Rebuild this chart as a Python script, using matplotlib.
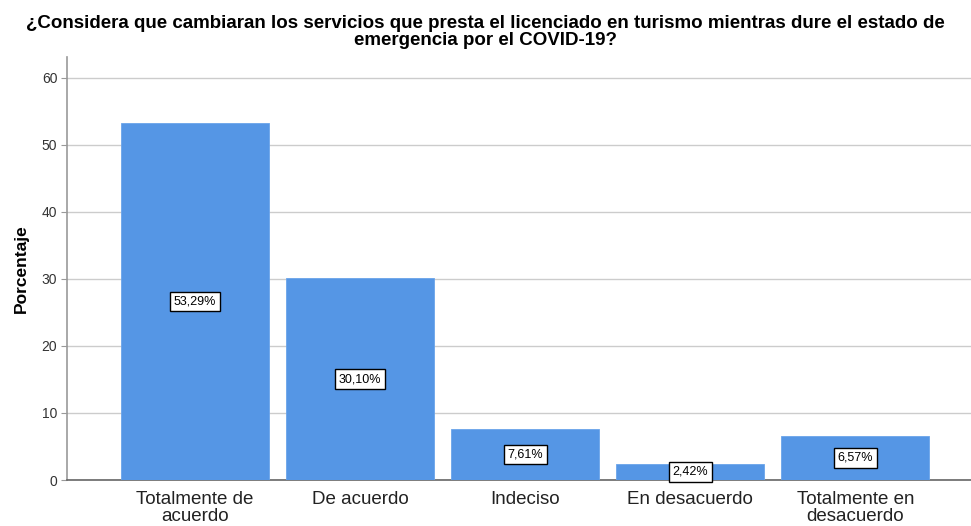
import matplotlib
matplotlib.use("Agg")
import matplotlib.pyplot as plt

categories = ["Totalmente de\nacuerdo", "De acuerdo", "Indeciso", "En desacuerdo", "Totalmente en\ndesacuerdo"]
values = [53.29, 30.10, 7.61, 2.42, 6.57]
labels = ["53,29%", "30,10%", "7,61%", "2,42%", "6,57%"]
yticks = [0, 10, 20, 30, 40, 50, 60]

plt.rcParams['font.family'] = ['Liberation Sans', 'DejaVu Sans']

fig = plt.figure(figsize=(9.71, 5.26), dpi=100)
ax = fig.add_axes([67/971, 1-480/526, (971-67)/971, (480-57)/526])

x = list(range(len(values)))
ax.bar(x, values, width=0.897, color="#5596E5", edgecolor="#6aa4ea", linewidth=0.6, zorder=3)

for xi, v, lab in zip(x, values, labels):
    ax.text(xi, v/2, lab, ha="center", va="center", fontsize=9, zorder=5,
            bbox=dict(boxstyle="square,pad=0.3", facecolor="white", edgecolor="black", linewidth=1.0))

ax.set_xlim(-0.776, 4.70)
ax.set_ylim(0, 63.1)
ax.set_yticks(yticks)
ax.set_yticklabels([str(t) for t in yticks], fontsize=10, color="#333333")
ax.set_xticks(x)
ax.set_xticklabels(categories, fontsize=13.5, color="#222222", linespacing=1.0)
ax.tick_params(axis="x", length=0, pad=8)
ax.tick_params(axis="y", length=4, color="#999999", pad=3)

ax.yaxis.grid(True, color="#cccccc", linewidth=1, zorder=0)
ax.set_axisbelow(True)
for s in ["top", "right"]:
    ax.spines[s].set_visible(False)
ax.spines["left"].set_color("#999999")
ax.spines["left"].set_linewidth(1.2)
ax.spines["bottom"].set_color("#666666")
ax.spines["bottom"].set_linewidth(1.2)

ax.set_ylabel("Porcentaje", fontsize=12.5, fontweight="bold", labelpad=9)
fig.text(0.5, 1-15/526, "¿Considera que cambiaran los servicios que presta el licenciado en turismo mientras dure el estado de\nemergencia por el COVID-19?",
         ha="center", va="top", fontsize=13.5, fontweight="bold", linespacing=1.0)

fig.savefig("out.png", dpi=100)
